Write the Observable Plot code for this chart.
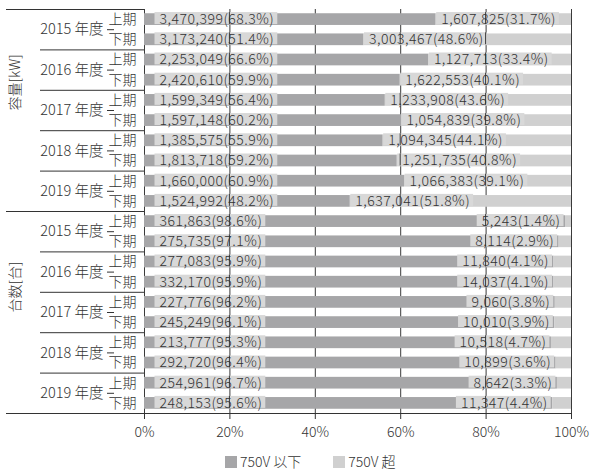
<!DOCTYPE html>
<html><head><meta charset="utf-8">
<script src="https://cdn.jsdelivr.net/npm/d3@7"></script>
<script src="https://cdn.jsdelivr.net/npm/@observablehq/plot@0.6"></script>
<style>
body{margin:0;background:#fff;font-family:"Noto Sans CJK JP","Noto Sans",sans-serif;}
#legend{display:flex;align-items:center;padding-left:225px;margin-top:9px;font-size:14px;color:#333;line-height:15px;font-weight:300;}
#legend .item{display:flex;align-items:center;margin-right:32px;}
#legend .sw{width:12px;height:12px;margin-right:3px;}
</style></head><body>
<div id="chart"></div>
<div id="legend"></div>
<script>
const groups = ["容量[kW]", "台数[台]"];
const years = ["2015 年度", "2016 年度", "2017 年度", "2018 年度", "2019 年度"];
const halves = ["上期", "下期"];
const series = ["750V 以下", "750V 超"];
const colors = ["#a6a6a8", "#d0d0d0"];
const capacityLow = [3470399, 3173240, 2253049, 2420610, 1599349, 1597148, 1385575, 1813718, 1660000, 1524992];
const capacityLowPct = [68.3, 51.4, 66.6, 59.9, 56.4, 60.2, 55.9, 59.2, 60.9, 48.2];
const capacityHigh = [1607825, 3003467, 1127713, 1622553, 1233908, 1054839, 1094345, 1251735, 1066383, 1637041];
const capacityHighPct = [31.7, 48.6, 33.4, 40.1, 43.6, 39.8, 44.1, 40.8, 39.1, 51.8];
const unitsLow = [361863, 275735, 277083, 332170, 227776, 245249, 213777, 292720, 254961, 248153];
const unitsLowPct = [98.6, 97.1, 95.9, 95.9, 96.2, 96.1, 95.3, 96.4, 96.7, 95.6];
const unitsHigh = [5243, 8114, 11840, 14037, 9060, 10010, 10518, 10899, 8642, 11347];
const unitsHighPct = [1.4, 2.9, 4.1, 4.1, 3.8, 3.9, 4.7, 3.6, 3.3, 4.4];
const xTicks = [0, 0.2, 0.4, 0.6, 0.8, 1];

const W = 593, H = 445, mL = 144, mR = 22, mT = 9, mB = 32;
const px = p => (p - mL) / (W - mL - mR);   // pixel column -> x units (decoration only)
const fmt = d3.format(",");

const groupData = [
  [capacityLow, capacityLowPct, capacityHigh, capacityHighPct],
  [unitsLow, unitsLowPct, unitsHigh, unitsHighPct]
];
const rows = [];
groupData.forEach((gd, g) => {
  for (let k = 0; k < 10; k++) {
    rows.push({
      i: g * 10 + k,
      year: years[Math.floor(k / 2)],
      half: halves[k % 2],
      low: gd[0][k], lowPct: gd[1][k], high: gd[2][k], highPct: gd[3][k]
    });
  }
});
const lowLabel = d => `${fmt(d.low)}(${d.lowPct.toFixed(1)}%)`;
const highLabel = d => `${fmt(d.high)}(${d.highPct.toFixed(1)}%)`;
const yearRows = rows.filter(d => d.half === "上期");
const wideHigh = rows.filter(d => d.highPct >= 20);
const narrowHigh = rows.filter(d => d.highPct < 20);
const yearSeps = rows.filter(d => d.half === "下期" && d.i % 10 !== 9).map(d => d.i + 0.5);
const halfSeps = yearRows.map(d => d.i + 0.5);
const groupSeps = [-0.5, 9.5, 19.5];
const groupCenters = groups.map((g, j) => ({g, y: j * 10 + 4.5}));

const textStyle = {fontSize: 14, fill: "#333", fontFamily: "Noto Sans CJK JP", fontWeight: 300};
const H2 = 0.29;

const chart = Plot.plot({
  width: W, height: H,
  marginLeft: mL, marginRight: mR, marginTop: mT, marginBottom: mB,
  style: {fontFamily: "Noto Sans CJK JP", fontSize: "14px", fontWeight: 300, color: "#333", background: "#fff", overflow: "visible"},
  x: {domain: [0, 1], ticks: xTicks, tickFormat: d3.format(".0%"), tickSize: 6, tickPadding: 8, label: null},
  y: {domain: [-0.5, 19.5], reverse: true, axis: null},
  marks: [
    Plot.ruleX(xTicks, {stroke: "#3a3a3a", strokeWidth: 1}),
    Plot.rectX(rows, {x1: 0, x2: d => d.lowPct / 100, y1: d => d.i - H2, y2: d => d.i + H2, fill: colors[0]}),
    Plot.rectX(rows, {x1: d => d.lowPct / 100, x2: d => (d.lowPct + d.highPct) / 100, y1: d => d.i - H2, y2: d => d.i + H2, fill: colors[1]}),
    Plot.text(rows, {x: d => 0, y: "i", text: lowLabel, textAnchor: "start", dx: 15, ...textStyle, ariaDescription: "barlabel"}),
    Plot.text(wideHigh, {x: d => d.lowPct / 100, y: "i", text: highLabel, textAnchor: "start", dx: 5, ...textStyle, ariaDescription: "barlabel"}),
    Plot.text(narrowHigh, {x: d => d.lowPct / 100, y: "i", text: highLabel, textAnchor: "end", dx: -5, ...textStyle, ariaDescription: "barlabel"}),
    // left category axis
    Plot.text(rows, {y: "i", text: "half", frameAnchor: "left", textAnchor: "end", dx: -8, ...textStyle}),
    Plot.text(yearRows, {y: d => d.i + 0.5, text: "year", frameAnchor: "left", textAnchor: "end", dx: -41, ...textStyle, fontSize: 14.5}),
    Plot.text(groupCenters, {y: "y", text: "g", frameAnchor: "left", rotate: -90, dx: -129, ...textStyle}),
    Plot.ruleY(halfSeps, {x1: px(107), x2: px(114), stroke: "#333"}),
    Plot.ruleY(yearSeps, {x1: px(40), x2: 0, stroke: "#333"}),
    Plot.ruleY(groupSeps.slice(0, 2), {x1: px(6), x2: 0, stroke: "#333"}),
    Plot.ruleY(groupSeps.slice(2), {x1: px(6), x2: 1, stroke: "#333"})
  ]
});
document.getElementById("chart").appendChild(chart);

// light background boxes behind the bar labels (with grid lines showing through)
const xs = chart.scale("x");
const gridPx = xTicks.map(t => xs.apply(t));
chart.querySelectorAll('g[aria-description="barlabel"]').forEach(g => {
  const bg = document.createElementNS("http://www.w3.org/2000/svg", "g");
  g.parentNode.insertBefore(bg, g);
  g.querySelectorAll("text").forEach(t => {
    t.style.letterSpacing = "0.5px";
    const b = t.getBBox();
    const m = t.getCTM();
    const x0 = b.x + m.e - 5, x1 = b.x + b.width + m.e + 3;
    const cy = b.y + m.f + b.height / 2;
    const r = document.createElementNS("http://www.w3.org/2000/svg", "rect");
    r.setAttribute("x", x0); r.setAttribute("width", x1 - x0);
    r.setAttribute("y", cy - 6); r.setAttribute("height", 12);
    r.setAttribute("fill", "#d8d8d8");
    bg.appendChild(r);
    gridPx.forEach(gx => {
      if (gx > x0 && gx < x1) {
        const l = document.createElementNS("http://www.w3.org/2000/svg", "line");
        l.setAttribute("x1", gx); l.setAttribute("x2", gx);
        l.setAttribute("y1", cy - 6); l.setAttribute("y2", cy + 6);
        l.setAttribute("stroke", "#3a3a3a");
        bg.appendChild(l);
      }
    });
  });
});

const legend = document.getElementById("legend");
series.forEach((s, j) => {
  const it = document.createElement("div");
  it.className = "item";
  it.innerHTML = `<span class="sw" style="background:${colors[j]}"></span><span>${s}</span>`;
  legend.appendChild(it);
});
</script>
</body></html>
